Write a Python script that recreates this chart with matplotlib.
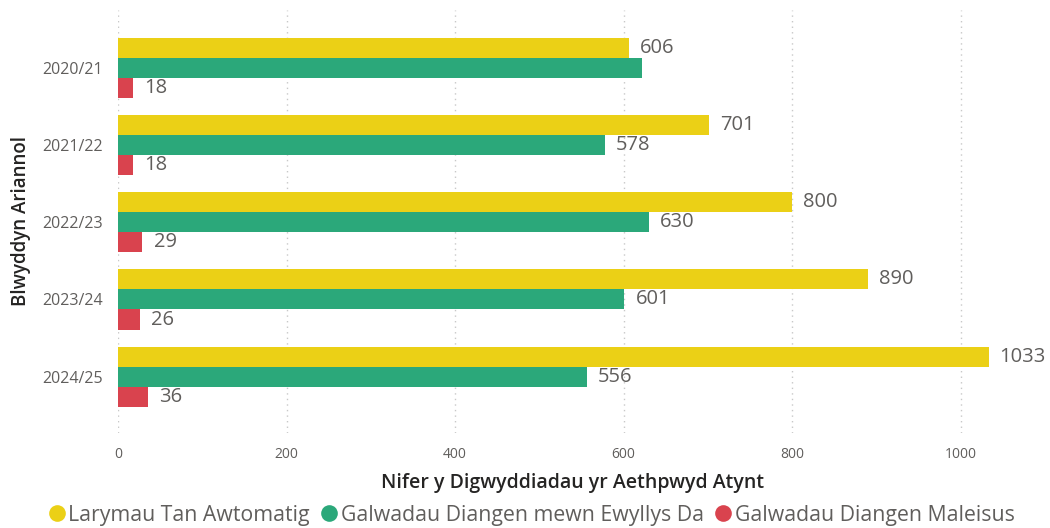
import matplotlib
matplotlib.use("Agg")
import matplotlib.pyplot as plt
from matplotlib.lines import Line2D
import numpy as np

plt.rcParams['font.family'] = ['Open Sans', 'DejaVu Sans']

years = ["2020/21", "2021/22", "2022/23", "2023/24", "2024/25"]
series_names = ["Larymau Tan Awtomatig", "Galwadau Diangen mewn Ewyllys Da", "Galwadau Diangen Maleisus"]
automatic = [606, 701, 800, 890, 1033]
goodwill = [622, 578, 630, 601, 556]
malicious = [18, 18, 29, 26, 36]
# Labels shown in the reference (the 2020/21 goodwill label is hidden there)
show_label = [
    [True, True, True, True, True],
    [False, True, True, True, True],
    [True, True, True, True, True],
]
colors = ["#EBD016", "#2BA87A", "#D9434E"]
xticks = [0, 200, 400, 600, 800, 1000]

fig = plt.figure(figsize=(10.5, 5.28), dpi=100)
ax = fig.add_axes([118/1050, 1-433/528, (1045-118)/1050, (433-10)/528])

y = np.arange(len(years))
h = 0.26
data = [automatic, goodwill, malicious]
for i, (vals, col) in enumerate(zip(data, colors)):
    pos = y + (i - 1) * h
    ax.barh(pos, vals, height=h, color=col, edgecolor='none')
    for j, (p, v) in enumerate(zip(pos, vals)):
        if show_label[i][j]:
            ax.annotate(str(v), (v, p), xytext=(8, 0), textcoords='offset points',
                        va='center', ha='left', fontsize=14.5, color='#605E5C')

ax.set_xlim(0, 1100)
ax.set_ylim(len(years) - 1 + 0.73, -0.75)
ax.set_yticks(y)
ax.set_yticklabels(years, fontsize=11.5, color='#605E5C')
ax.set_xticks(xticks)
ax.set_xticklabels([str(t) for t in xticks], fontsize=10, color='#605E5C')
ax.tick_params(axis='both', length=0)
ax.tick_params(axis='y', pad=11)
ax.tick_params(axis='x', pad=10)
for s in ax.spines.values():
    s.set_visible(False)
ax.grid(axis='x', linestyle=(0, (1, 3)), color='#C8C8C8', linewidth=1)
ax.set_axisbelow(True)

ax.set_xlabel("Nifer y Digwyddiadau yr Aethpwyd Atynt", fontsize=14, color='#252423',
              fontweight='semibold')
ax.xaxis.set_label_coords(0.49, -0.095)
ax.set_ylabel("Blwyddyn Ariannol", fontsize=13.5, color='#252423', fontweight='semibold',
              labelpad=8)

handles = [Line2D([0], [0], marker='o', linestyle='none', markersize=12,
                  markerfacecolor=c, markeredgecolor='none') for c in colors]
fig.legend(handles, series_names, loc='center', bbox_to_anchor=(0.506, 1-515/528),
           ncol=3, frameon=False, fontsize=15.3, handletextpad=0.15, columnspacing=0.5,
           handlelength=0.8, labelcolor='#605E5C', borderaxespad=0, borderpad=0)

fig.savefig("out.png", dpi=100)
